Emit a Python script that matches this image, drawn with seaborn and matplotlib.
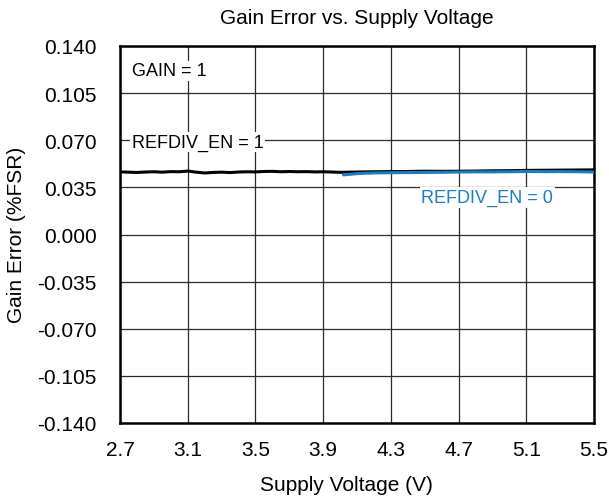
import matplotlib
matplotlib.use("Agg")
import matplotlib.pyplot as plt
import seaborn as sns
import pandas as pd

# Data
v_en1 = [2.70, 2.75, 2.80, 2.85, 2.90, 2.95, 3.00, 3.05, 3.10, 3.15, 3.20, 3.25, 3.30, 3.35, 3.40,
         3.45, 3.50, 3.55, 3.60, 3.65, 3.70, 3.75, 3.80, 3.85, 3.90, 3.95, 4.00, 4.10, 4.20, 4.30,
         4.40, 4.50, 4.60, 4.70, 4.80, 4.90, 5.00, 5.10, 5.20, 5.30, 5.40, 5.50]
ge_en1 = [0.0465, 0.0463, 0.0461, 0.0464, 0.0466, 0.0463, 0.0467, 0.0466, 0.0471, 0.0463, 0.0457,
          0.0461, 0.0463, 0.0460, 0.0464, 0.0466, 0.0465, 0.0468, 0.0469, 0.0466, 0.0468, 0.0466,
          0.0467, 0.0465, 0.0466, 0.0464, 0.0462, 0.0464, 0.0466, 0.0467, 0.0468, 0.0470, 0.0469,
          0.0470, 0.0471, 0.0473, 0.0474, 0.0476, 0.0477, 0.0478, 0.0479, 0.0480]
v_en0 = [4.02, 4.05, 4.10, 4.15, 4.20, 4.30, 4.40, 4.50, 4.60, 4.70, 4.80, 4.90, 5.00, 5.10,
         5.20, 5.30, 5.40, 5.50]
ge_en0 = [0.0443, 0.0446, 0.0452, 0.0455, 0.0457, 0.0459, 0.0460, 0.0461, 0.0462, 0.0464, 0.0465,
          0.0465, 0.0466, 0.0468, 0.0467, 0.0467, 0.0466, 0.0464]

x_ticks = [2.7, 3.1, 3.5, 3.9, 4.3, 4.7, 5.1, 5.5]
y_ticks = [-0.140, -0.105, -0.070, -0.035, 0.000, 0.035, 0.070, 0.105, 0.140]

sns.set_theme(style="white")
plt.rcParams["font.family"] = ["Liberation Sans", "DejaVu Sans"]
plt.rcParams["text.color"] = "black"
plt.rcParams["axes.labelcolor"] = "black"

W, H = 609, 502
fig = plt.figure(figsize=(W / 100, H / 100), dpi=100)
ax = fig.add_axes([120 / W, 1 - 424 / H, (594 - 120) / W, (424 - 47) / H])

df1 = pd.DataFrame({"v": v_en1, "ge": ge_en1})
df0 = pd.DataFrame({"v": v_en0, "ge": ge_en0})
sns.lineplot(data=df1, x="v", y="ge", ax=ax, color="black", linewidth=2.2, zorder=3)
sns.lineplot(data=df0, x="v", y="ge", ax=ax, color="#1f7bc1", linewidth=2.2, zorder=4)

ax.set_xlim(2.7, 5.5)
ax.set_ylim(-0.140, 0.140)
ax.set_xticks(x_ticks)
ax.set_xticklabels([f"{t:.1f}" for t in x_ticks])
ax.set_yticks(y_ticks)
ax.set_yticklabels([f"{t:.3f}" for t in y_ticks])
ax.tick_params(axis="both", labelsize=15, colors="black", labelcolor="black", length=0)
ax.tick_params(axis="y", pad=17)
ax.tick_params(axis="x", pad=12)
ax.grid(True, color="#2a2a2a", linewidth=0.9)
for s in ax.spines.values():
    s.set_visible(True)
    s.set_color("black")
    s.set_linewidth(1.8)

ax.set_xlabel("")
ax.set_ylabel("")
fig.text(357 / W, 1 - 18 / H, "Gain Error vs. Supply Voltage", fontsize=15, ha="center", va="center", color="black")
fig.text(346 / W, 1 - 486 / H, "Supply Voltage (V)", fontsize=15, ha="center", va="center", color="black")
fig.text(17 / W, 1 - 235 / H, "Gain Error (%FSR)", fontsize=15, ha="center", va="center", rotation=90, color="black")

bbox = dict(facecolor="white", edgecolor="none", pad=1)
ax.text(2.77, 0.1215, "GAIN = 1", fontsize=13, va="center", ha="left", bbox=bbox, zorder=5, color="black")
ax.text(2.77, 0.0685, "REFDIV_EN = 1", fontsize=13, va="center", ha="left", bbox=bbox, zorder=5, color="black")
ax.text(4.87, 0.0275, "REFDIV_EN = 0", fontsize=13, va="center", ha="center",
        color="#1f7bc1", bbox=bbox, zorder=5)

fig.savefig("out.png", dpi=100)
